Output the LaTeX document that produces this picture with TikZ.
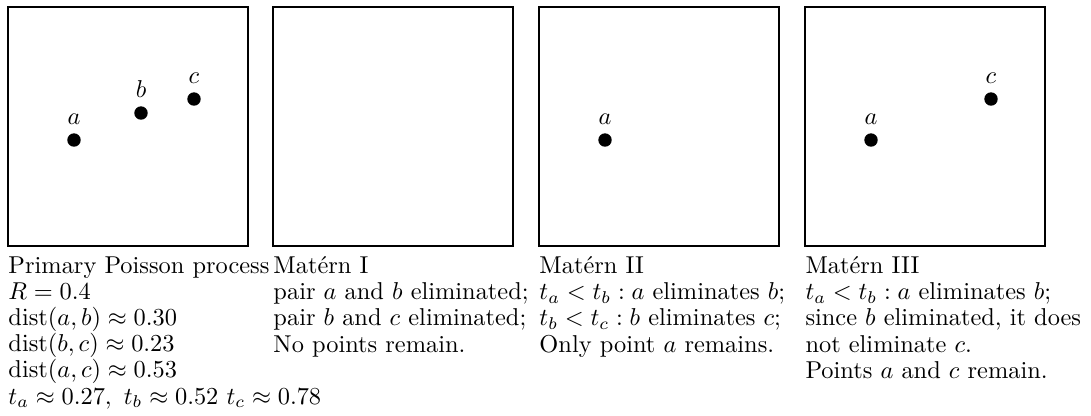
\documentclass[tikz,border=0pt]{standalone}
\usepackage{amsmath,amssymb}
\usetikzlibrary{positioning}
\tikzset{
  panel/.style={draw, line width=1.1pt},
  pt/.style={circle, fill=black, inner sep=0pt, minimum size=5.5pt},
  caption/.style={anchor=north west, inner sep=0pt, align=left,
                  font=\fontsize{10}{10.74}\selectfont},
}

\begin{document}
\begin{tikzpicture}[x=0.41pt,y=-0.41pt]
\useasboundingbox (0,0) rectangle (1091,415);

% the four windows
\draw[panel] (8,7) rectangle ++(240,239);
\draw[panel] (273,7) rectangle ++(240,239);
\draw[panel] (539,7) rectangle ++(240,239);
\draw[panel] (805,7) rectangle ++(240,239);

% primary process
\node[pt,label=above:$a$] (pa) at (74,140) {};
\node[pt,label=above:$b$] (pb) at (141,113) {};
\node[pt,label=above:$c$] (pc) at (194,99) {};
% Matern II keeps a
\node[pt,label=above:$a$] (iia) at (605,140) {};
% Matern III keeps a and c
\node[pt,label=above:$a$] (iiia) at (871,140) {};
\node[pt,label=above:$c$] (iiic) at (991,99) {};

% captions under the windows
\node[caption] (cap0) at (8,256)
   {Primary Poisson process\\ $R=0.4$\\ $\mathrm{dist}(a,b)\approx 0.30$\\
    $\mathrm{dist}(b,c)\approx 0.23$\\ $\mathrm{dist}(a,c)\approx 0.53$\\
    $t_a\approx 0.27,\ t_b\approx 0.52\ t_c\approx 0.78$};
\node[caption] (capI) at (273,256)
   {Matérn I\\ pair $a$ and $b$ eliminated;\\ pair $b$ and $c$ eliminated;\\
    No points remain.};
\node[caption] (capII) at (539,256)
   {Matérn II\\ $t_a<t_b : a$ eliminates $b$;\\ $t_b<t_c : b$ eliminates $c$;\\
    Only point $a$ remains.};
\node[caption] (capIII) at (805,256)
   {Matérn III\\ $t_a<t_b : a$ eliminates $b$;\\ since $b$ eliminated, it does\\
    not eliminate $c$.\\ Points $a$ and $c$ remain.};
\end{tikzpicture}
\end{document}
